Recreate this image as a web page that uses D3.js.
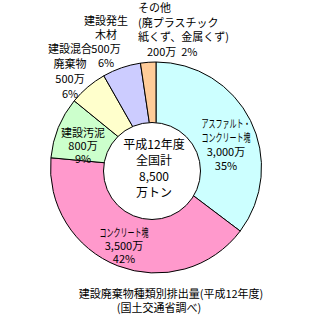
<!DOCTYPE html>
<html>
<head>
<meta charset="utf-8">
<script src="https://cdn.jsdelivr.net/npm/d3@7"></script>
<style>
  body { margin: 0; background: #fff; }
  svg { display: block; }
  text { font-family: "Noto Sans CJK JP", sans-serif; fill: #000; }
</style>
</head>
<body>
<svg id="drawing_region"></svg>
<script>
// data
const categories = ['アスファルト・\nコンクリート塊', 'コンクリート塊', '建設汚泥', '建設混合\n廃棄物', '建設発生\n木材', 'その他\n(廃プラスチック\n紙くず、金属くず)'];
const values = [3000, 3500, 800, 500, 500, 200];
const percents = [35, 42, 9, 6, 6, 2];
const colors = ['#ccffff', '#ff99cc', '#ccffcc', '#ffffcc', '#ccccff', '#ffcc99'];
const centerLines = ['平成12年度', '全国計', '8,500', '万トン'];
const captionLines = ['建設廃棄物種類別排出量(平成12年度)', '(国土交通省調べ)'];

// label placement (layout only)
const labelLayout = [
    {x: 226, y: 123, lh: 14, anchor: 'middle'},
    {x: 124, y: 232, lh: 13, anchor: 'middle'},
    {x: 83, y: 132, lh: 13, anchor: 'middle'},
    {x: 70, y: 48, lh: 15, anchor: 'middle'},
    {x: 106, y: 20, lh: 14, anchor: 'middle'},
    {x: 138, y: 7, lh: 14.5, anchor: 'start', join: true, lastDx: 9}
];

const W = 323, H = 316;
const cx = 156, cy = 167.5, R = 105.5;
const hole = {x: 152, y: 171, r: 48.5};

const svg = d3.select('#drawing_region')
    .attr('width', W)
    .attr('height', H);

const pie = d3.pie().sort(null).value(d => d);
const arc = d3.arc().innerRadius(0).outerRadius(R);
const fmt = d3.format(',');

const chart = svg.append('g')
    .attr('transform', `translate(${cx}, ${cy})`);

chart.selectAll('path')
    .data(pie(values))
    .enter()
    .append('path')
    .attr('d', arc)
    .attr('fill', (d, i) => colors[i])
    .attr('stroke', '#000')
    .attr('stroke-width', 1);

// white centre
svg.append('circle')
    .attr('cx', hole.x)
    .attr('cy', hole.y)
    .attr('r', hole.r)
    .attr('fill', '#fff')
    .attr('stroke', '#000')
    .attr('stroke-width', 1);

svg.selectAll('.center')
    .data(centerLines)
    .enter()
    .append('text')
    .attr('class', 'center')
    .attr('x', 154)
    .attr('y', (d, i) => 143 + i * 16)
    .attr('text-anchor', 'middle')
    .attr('dominant-baseline', 'central')
    .attr('font-size', '12px')
    .text(d => d);

// slice labels
categories.forEach((name, i) => {
    const lay = labelLayout[i];
    let lines = name.split('\n');
    if (lay.join) {
        lines.push(fmt(values[i]) + '万  ' + percents[i] + '%');
    } else {
        lines.push(fmt(values[i]) + '万');
        lines.push(percents[i] + '%');
    }
    lines.forEach((line, j) => {
        const t = svg.append('text')
            .attr('x', lay.x + (lay.join && j === lines.length - 1 ? lay.lastDx : 0))
            .attr('y', lay.y + j * lay.lh)
            .attr('text-anchor', lay.anchor)
            .attr('dominant-baseline', 'central')
            .attr('font-size', '11px')
            .style('white-space', 'pre')
            .text(line);
        if (/[ァ-ヶ]/.test(line) && i < 2) {
            t.attr('textLength', line.length * 7)
             .attr('lengthAdjust', 'spacingAndGlyphs');
        }
    });
});

// caption
svg.append('text')
    .attr('x', 171)
    .attr('y', 293)
    .attr('text-anchor', 'middle')
    .attr('dominant-baseline', 'central')
    .attr('font-size', '11px')
    .text(captionLines[0]);

svg.append('text')
    .attr('x', 159)
    .attr('y', 307)
    .attr('text-anchor', 'middle')
    .attr('dominant-baseline', 'central')
    .attr('font-size', '11px')
    .text(captionLines[1]);
</script>
</body>
</html>
